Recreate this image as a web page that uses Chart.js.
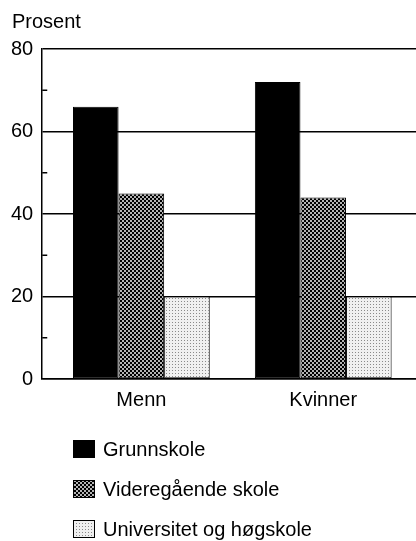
<!DOCTYPE html>
<html>
<head>
<meta charset="utf-8">
<script src="https://cdn.jsdelivr.net/npm/chart.js@4.4.0/dist/chart.umd.min.js"></script>
<style>
  body { margin: 0; background: #fff; }
</style>
</head>
<body>
<canvas id="chart" width="416" height="541"></canvas>
<script>
var categories = ['Menn', 'Kvinner'];
var seriesNames = ['Grunnskole', 'Videregående skole', 'Universitet og høgskole'];
var grunnskole = [66, 72];
var videregaende = [45, 44];
var universitet = [20, 20];
var yMajor = [0, 20, 40, 60, 80];
var yMinor = [10, 30, 50, 70];
var yTitle = 'Prosent';

var FONT = '"Liberation Sans", Arial, sans-serif';
var FSIZE = 20;

var ctx = document.getElementById('chart').getContext('2d');

// halftone fills like the printed original
function checkerPattern() {
    var c = document.createElement('canvas');
    c.width = 4; c.height = 4;
    var g = c.getContext('2d');
    g.fillStyle = '#b4b4b4';
    g.fillRect(0, 0, 4, 4);
    g.fillStyle = '#000';
    g.fillRect(0, 0, 2, 2);
    g.fillRect(2, 2, 2, 2);
    return ctx.createPattern(c, 'repeat');
}

function dotPattern() {
    var c = document.createElement('canvas');
    c.width = 3; c.height = 3;
    var g = c.getContext('2d');
    g.fillStyle = '#f0f0f0';
    g.fillRect(0, 0, 3, 3);
    g.fillStyle = '#8a8a8a';
    g.fillRect(1, 1, 1, 1);
    return ctx.createPattern(c, 'repeat');
}

function points(values) {
    return values.map(function (v, i) { return {x: i + 1, y: v}; });
}

var fills = ['#000', checkerPattern(), dotPattern()];
var series = [grunnskole, videregaende, universitet];

var datasets = series.map(function (vals, i) {
    return {
        label: seriesNames[i],
        data: points(vals),
        backgroundColor: fills[i],
        borderColor: '#000',
        borderWidth: 1,
        borderSkipped: false,
        categoryPercentage: 0.752,
        barPercentage: 1
    };
});

// axis title, small ticks on the inside of the y axis, legend under the chart
var extras = {
    id: 'extras',
    afterDraw: function (chart) {
        var c = chart.ctx;
        var y = chart.scales.y;
        var left = chart.chartArea.left;
        c.save();
        c.strokeStyle = '#000';
        c.lineWidth = 1.5;
        yMinor.forEach(function (v) {
            var py = y.getPixelForValue(v);
            c.beginPath();
            c.moveTo(left, py);
            c.lineTo(left + 5, py);
            c.stroke();
        });

        c.font = FSIZE + 'px ' + FONT;
        c.fillStyle = '#000';
        c.textBaseline = 'alphabetic';
        c.fillText(yTitle, 12, 28);

        c.textBaseline = 'middle';
        chart.data.datasets.forEach(function (ds, i) {
            var top = 440 + i * 40;
            c.fillStyle = ds.backgroundColor;
            c.fillRect(73, top, 22, 18);
            c.lineWidth = 1;
            c.strokeRect(73.5, top + 0.5, 21, 17);
            c.fillStyle = '#000';
            c.fillText(ds.label, 103, top + 10);
        });
        c.restore();
    }
};

var myChart = new Chart(ctx, {
    type: 'bar',
    data: {datasets: datasets},
    options: {
        responsive: false,
        animation: false,
        layout: {padding: {left: 2, right: 0, top: 49, bottom: 120}},
        plugins: {
            legend: {display: false},
            tooltip: {enabled: false},
            title: {display: false}
        },
        scales: {
            x: {
                type: 'linear',
                offset: false,
                min: 0.455,
                max: 2.51,
                grid: {display: false, drawTicks: false, offset: false},
                border: {display: true, color: '#000', width: 1.5},
                afterBuildTicks: function (scale) {
                    scale.ticks = categories.map(function (c, i) { return {value: i + 1}; });
                },
                ticks: {
                    autoSkip: false,
                    maxRotation: 0,
                    padding: 9,
                    color: '#000',
                    font: {family: FONT, size: FSIZE},
                    callback: function (v) { return categories[v - 1]; }
                }
            },
            y: {
                min: 0,
                max: 80,
                grid: {
                    drawTicks: false,
                    lineWidth: 1.5,
                    color: function (c) {
                        return c.tick && yMajor.indexOf(c.tick.value) >= 0 ? '#000' : 'rgba(0,0,0,0)';
                    }
                },
                border: {display: true, color: '#000', width: 1.5},
                ticks: {
                    stepSize: 10,
                    padding: 9,
                    color: '#000',
                    font: {family: FONT, size: FSIZE},
                    callback: function (v) { return yMajor.indexOf(v) >= 0 ? v : ''; }
                }
            }
        }
    },
    plugins: [extras]
});
</script>
</body>
</html>
